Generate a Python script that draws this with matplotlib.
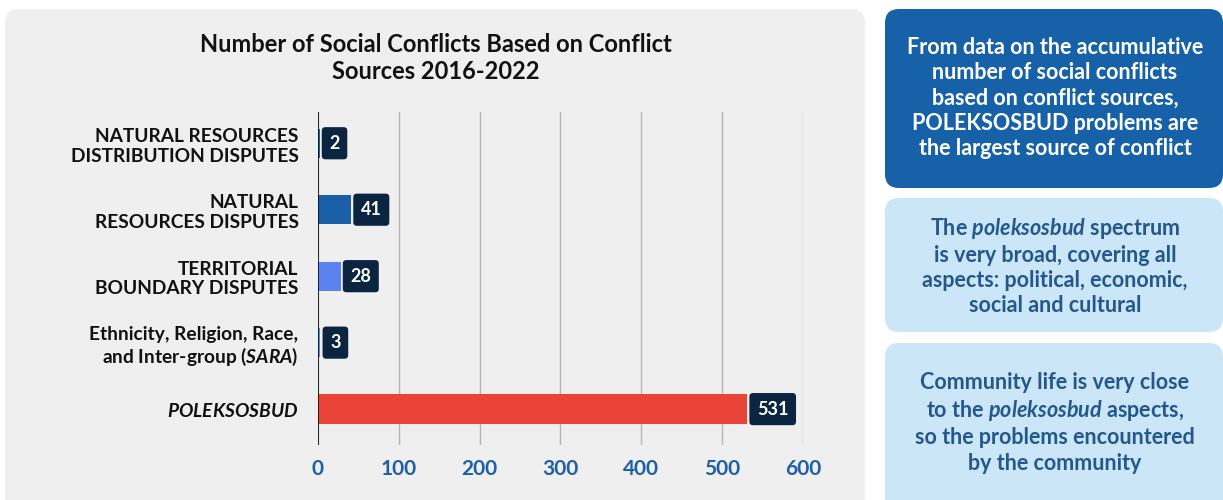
import matplotlib
matplotlib.use("Agg")
import matplotlib.pyplot as plt
from matplotlib.patches import FancyBboxPatch

plt.rcParams['font.family'] = ['Lato', 'DejaVu Sans']
plt.rcParams['mathtext.fontset'] = 'custom'
plt.rcParams['mathtext.it'] = 'Lato:italic:bold'
plt.rcParams['mathtext.rm'] = 'Lato:bold'

categories = [
    "NATURAL RESOURCES\nDISTRIBUTION DISPUTES",
    "NATURAL\nRESOURCES DISPUTES",
    "TERRITORIAL\nBOUNDARY DISPUTES",
    "Ethnicity, Religion, Race,\nand Inter-group ($\\mathit{SARA}$)",
    "$\\mathit{POLEKSOSBUD}$",
]
values = [2, 41, 28, 3, 531]
bar_colors = ["#1a5fa8", "#1a5fa8", "#5b82ef", "#4a90d9", "#ea4338"]
xticks = [0, 100, 200, 300, 400, 500, 600]
title = "Number of Social Conflicts Based on Conflict\nSources 2016-2022"
notes = [
    "From data on the accumulative\nnumber of social conflicts\nbased on conflict sources,\nPOLEKSOSBUD problems are\nthe largest source of conflict",
    "The $\\mathit{poleksosbud}$ spectrum\nis very broad, covering all\naspects: political, economic,\nsocial and cultural",
    "Community life is very close\nto the $\\mathit{poleksosbud}$ aspects,\nso the problems encountered\nby the community",
]

W, H = 1223, 500
fig = plt.figure(figsize=(W / 100, H / 100), dpi=100)

# background layer in pixel coordinates
bg = fig.add_axes([0, 0, 1, 1])
bg.set_xlim(0, W)
bg.set_ylim(H, 0)
bg.axis('off')

def rbox(x0, y0, x1, y1, color, r=14):
    p = FancyBboxPatch((x0, y0), x1 - x0, y1 - y0,
                       boxstyle=f"round,pad=0,rounding_size={r}",
                       facecolor=color, edgecolor='none')
    bg.add_patch(p)

rbox(5, 9, 865, 515, "#efefef")
rbox(885, 9, 1223, 188, "#1761a8")
rbox(885, 198, 1223, 332, "#cbe7f7")
rbox(885, 343, 1223, 515, "#cbe7f7")

bg.text(436, 58, title, ha='center', va='center', fontsize=17, fontweight='bold',
        color='#111111', linespacing=1.2)

note_colors = ['white', '#24578c', '#24578c']
note_y = [98, 266, 423]
for t, c, y in zip(notes, note_colors, note_y):
    bg.text(1055, y, t, ha='center', va='center', fontsize=15.5, fontweight='bold',
            color=c, linespacing=1.25)

# chart axes
x0, x1 = 318, 803
ytop, ybot = 112, 445
ax = fig.add_axes([x0 / W, (H - ybot) / H, (x1 - x0) / W, (ybot - ytop) / H])
ax.set_facecolor('none')
ypos = list(range(len(categories)))
ax.barh(ypos, values, height=0.44, color=bar_colors, zorder=3)
ax.set_xlim(0, 600)
ax.set_ylim(len(categories) - 0.46, -0.47)
ax.set_xticks(xticks)
ax.set_xticklabels([str(v) for v in xticks])
ax.set_yticks(ypos)
ax.set_yticklabels(categories)
for sp in ax.spines.values():
    sp.set_visible(False)
ax.axvline(0, color='#111111', lw=1.2, zorder=4)
ax.grid(axis='x', color='#b5b5b5', lw=1, zorder=0)
ax.tick_params(axis='x', length=0, pad=10, labelsize=15, labelcolor='#1f5fa5')
ax.tick_params(axis='y', length=0, pad=14, labelsize=13.8, labelcolor='#111111')
for lab in ax.get_xticklabels():
    lab.set_fontweight('bold')
for lab in ax.get_yticklabels():
    lab.set_fontweight('bold')
    lab.set_linespacing(1.2)

for y, v in zip(ypos, values):
    ax.annotate(str(v), xy=(v, y), xytext=(7, 0), textcoords='offset points',
                ha='left', va='center', fontsize=13, fontweight='bold', color='white',
                bbox=dict(boxstyle='round,pad=0.42,rounding_size=0.2',
                          facecolor='#0b2541', edgecolor='none'), zorder=5)

fig.savefig('out.png', dpi=100)
